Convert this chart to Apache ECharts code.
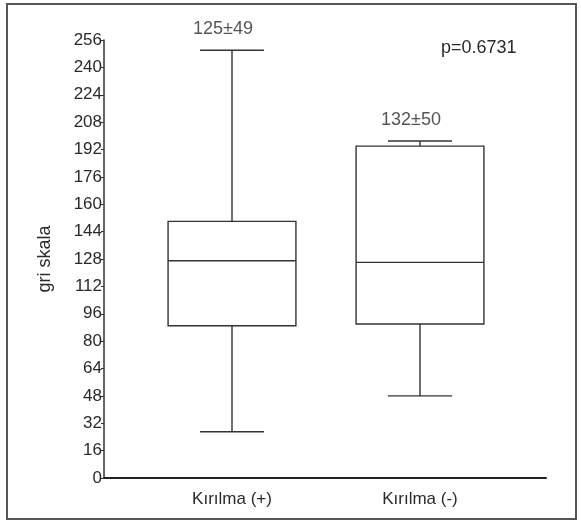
<!DOCTYPE html>
<html>
<head>
<meta charset="utf-8">
<script src="https://cdn.jsdelivr.net/npm/echarts@6/dist/echarts.min.js"></script>
<style>
  html, body { margin: 0; padding: 0; background: #fff; }
  #chart { width: 581px; height: 525px; }
</style>
</head>
<body>
<div id="chart"></div>
<script>
// veriler
const categories = ['Kırılma (+)', 'Kırılma (-)']
// [alt bıyık, Q1, medyan, Q3, üst bıyık]
const boxValues = [
  [27, 89, 127, 150, 250],
  [48, 90, 126, 194, 197]
]
const meanLabels = ['125±49', '132±50']
const pValue = 'p=0.6731'
const yTicks = [0, 16, 32, 48, 64, 80, 96, 112, 128, 144, 160, 176, 192, 208, 224, 240, 256]

const font = 'Liberation Sans, Arial, sans-serif'
const ink = '#2a2a2a'

const chart = echarts.init(document.getElementById('chart'))

// kutu + bıyık çizimi (bıyık başlığı kutunun yarısı kadar)
const renderBox = (params, api) => {
  const i = api.value(0)
  const vals = [1, 2, 3, 4, 5].map(k => api.value(k))
  const pt = vals.map(v => api.coord([i, v]))
  const x = pt[0][0]
  const band = api.size([1, 0])[0]
  const half = band * 0.34
  const cap = band * 0.17
  const [yMin, yQ1, yMed, yQ3, yMax] = pt.map(p => p[1])
  const line = (x1, y1, x2, y2) => ({
    type: 'line',
    shape: { x1, y1, x2, y2 },
    style: { stroke: '#333', lineWidth: 1.4 }
  })
  return {
    type: 'group',
    children: [
      line(x, yMax, x, yQ3),
      line(x, yQ1, x, yMin),
      line(x - cap, yMax, x + cap, yMax),
      line(x - cap, yMin, x + cap, yMin),
      {
        type: 'rect',
        shape: { x: x - half, y: yQ3, width: half * 2, height: yQ1 - yQ3 },
        style: { fill: '#fff', stroke: '#333', lineWidth: 1.4 }
      },
      line(x - half, yMed, x + half, yMed)
    ]
  }
}

chart.setOption({
  animation: false,
  backgroundColor: '#fff',
  title: {
    text: pValue,
    left: 436,
    top: 34,
    textStyle: { fontFamily: font, fontSize: 18, fontWeight: 'normal', color: ink }
  },
  grid: [
    { left: 138, right: 67, top: 40, bottom: 47 },
    { left: 104, right: 35, top: 40, bottom: 47 }
  ],
  xAxis: [
    {
      type: 'category',
      gridIndex: 0,
      data: categories,
      axisLine: { show: false },
      axisTick: { show: false },
      axisLabel: { fontFamily: font, fontSize: 17, color: ink, margin: 13 }
    },
    {
      type: 'value',
      gridIndex: 1,
      min: 0,
      max: 1,
      axisLine: { show: true, lineStyle: { color: '#222', width: 2 } },
      axisTick: { show: false },
      axisLabel: { show: false },
      splitLine: { show: false }
    }
  ],
  yAxis: [
    {
      type: 'value',
      gridIndex: 0,
      min: 0,
      max: 256,
      interval: 16,
      show: false
    },
    {
      type: 'value',
      gridIndex: 1,
      min: 0,
      max: 256,
      interval: 16,
      name: 'gri skala',
      nameLocation: 'middle',
      nameGap: 50,
      nameTextStyle: { fontFamily: font, fontSize: 18, color: ink },
      axisLine: { show: true, lineStyle: { color: '#333', width: 1.5 } },
      axisTick: { show: true, length: 3, lineStyle: { color: '#333' } },
      axisLabel: {
        fontFamily: font,
        fontSize: 17,
        color: ink,
        margin: 2,
        formatter: v => (yTicks.includes(v) ? String(v) : '')
      },
      splitLine: { show: false }
    }
  ],
  series: [
    {
      type: 'custom',
      xAxisIndex: 0,
      yAxisIndex: 0,
      renderItem: renderBox,
      encode: { x: 0, y: [1, 2, 3, 4, 5] },
      data: boxValues.map((b, i) => [i, ...b]),
      silent: true
    },
    {
      type: 'scatter',
      xAxisIndex: 0,
      yAxisIndex: 0,
      symbolSize: 0,
      data: boxValues.map((b, i) => [i, b[4]]),
      label: {
        show: true,
        position: 'top',
        distance: 12,
        offset: [-9, 0],
        formatter: p => meanLabels[p.dataIndex],
        fontFamily: font,
        fontSize: 18,
        color: ink
      },
      silent: true
    }
  ],
  graphic: [
    {
      type: 'rect',
      shape: { x: 7, y: 4, width: 569, height: 515 },
      style: { fill: null, stroke: '#555', lineWidth: 2 },
      silent: true
    }
  ]
})
</script>
</body>
</html>
